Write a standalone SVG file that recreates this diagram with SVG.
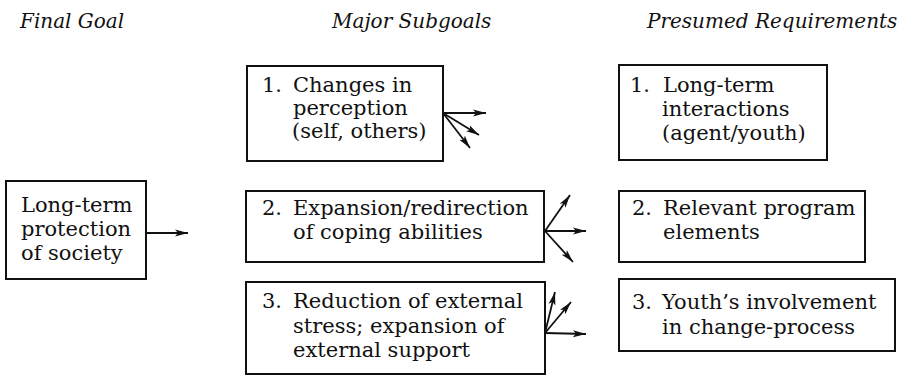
<svg xmlns="http://www.w3.org/2000/svg" width="906" height="379" viewBox="0 0 906 379">
<style>
  .hdr { font-family: "DejaVu Serif", "Liberation Serif", serif; font-style: italic; font-size: 20px; fill: #111; }
  .txt { font-family: "DejaVu Serif", "Liberation Serif", serif; font-size: 21px; fill: #111; }
  .box { fill: none; stroke: #111; stroke-width: 2; }
  .conn { stroke: #111; stroke-width: 1.8; fill: none; marker-end: url(#ah); }
</style>
<defs>
  <marker id="ah" markerUnits="userSpaceOnUse" markerWidth="14" markerHeight="10" refX="13" refY="4" orient="auto">
    <path d="M0,0.5 L13,4 L0,7.5 L3,4 z" fill="#111"/>
  </marker>
</defs>
<rect width="906" height="379" fill="#fff"/>

<g id="headers">
  <text class="hdr" x="20" y="28">Final Goal</text>
  <text class="hdr" x="332" y="28">Major Subgoals</text>
  <text class="hdr" x="647" y="28">Presumed Requirements</text>
</g>

<g id="final-goal">
  <rect class="box" x="6" y="181" width="140" height="98"/>
  <text class="txt" x="21" y="212">Long-term</text>
  <text class="txt" x="21" y="236">protection</text>
  <text class="txt" x="21" y="260">of society</text>
</g>

<g id="subgoal-1">
  <rect class="box" x="247" y="66" width="196" height="95"/>
  <text class="txt" x="262" y="92">1.</text>
  <text class="txt" x="293" y="92">Changes in</text>
  <text class="txt" x="293" y="115">perception</text>
  <text class="txt" x="292" y="138">(self, others)</text>
</g>

<g id="subgoal-2">
  <rect class="box" x="246" y="191" width="298" height="71"/>
  <text class="txt" x="262" y="215">2.</text>
  <text class="txt" x="293" y="215">Expansion/redirection</text>
  <text class="txt" x="293" y="239">of coping abilities</text>
</g>

<g id="subgoal-3">
  <rect class="box" x="246" y="282" width="299" height="92"/>
  <text class="txt" x="262" y="308">3.</text>
  <text class="txt" x="293" y="308">Reduction of external</text>
  <text class="txt" x="293" y="333">stress; expansion of</text>
  <text class="txt" x="293" y="357">external support</text>
</g>

<g id="requirement-1">
  <rect class="box" x="619" y="65" width="208" height="95"/>
  <text class="txt" x="630" y="92">1.</text>
  <text class="txt" x="663" y="92">Long-term</text>
  <text class="txt" x="662" y="116">interactions</text>
  <text class="txt" x="662" y="140">(agent/youth)</text>
</g>

<g id="requirement-2">
  <rect class="box" x="619" y="191" width="246" height="71"/>
  <text class="txt" x="632" y="215">2.</text>
  <text class="txt" x="663" y="215">Relevant program</text>
  <text class="txt" x="663" y="239">elements</text>
</g>

<g id="requirement-3">
  <rect class="box" x="619" y="279" width="276" height="72"/>
  <text class="txt" x="632" y="309">3.</text>
  <text class="txt" x="662" y="309">Youth’s involvement</text>
  <text class="txt" x="662" y="334">in change-process</text>
</g>

<g id="connectors">
  <line class="conn" x1="146" y1="233" x2="188" y2="233"/>
  <line class="conn" x1="443" y1="113" x2="486" y2="113"/>
  <line class="conn" x1="443" y1="113" x2="479" y2="135"/>
  <line class="conn" x1="443" y1="113" x2="470" y2="148"/>
  <line class="conn" x1="545" y1="231" x2="570" y2="195"/>
  <line class="conn" x1="545" y1="231" x2="586" y2="231"/>
  <line class="conn" x1="545" y1="231" x2="573" y2="262"/>
  <line class="conn" x1="545" y1="333" x2="555" y2="292"/>
  <line class="conn" x1="545" y1="333" x2="571" y2="302"/>
  <line class="conn" x1="545" y1="333" x2="586" y2="334"/>
</g>
</svg>
